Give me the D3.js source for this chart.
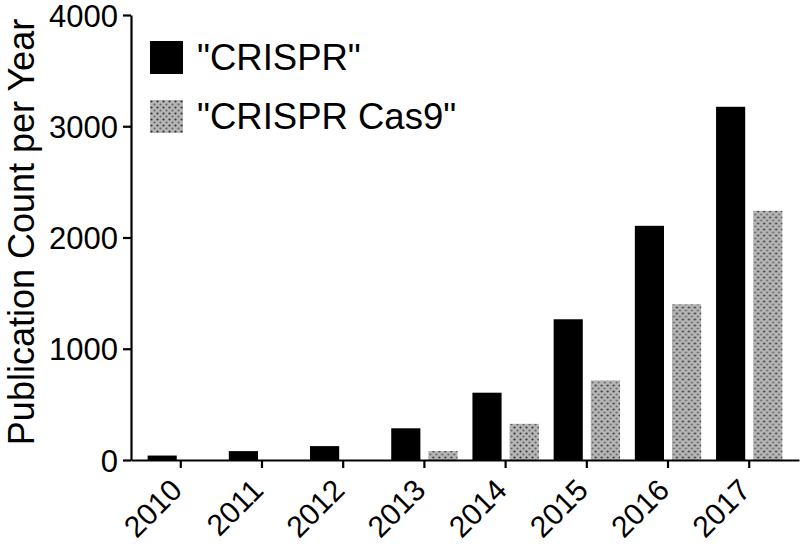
<!DOCTYPE html>
<html>
<head>
<meta charset="utf-8">
<script src="https://cdn.jsdelivr.net/npm/d3@7"></script>
<style>
  body { margin: 0; background: #fff; }
  svg { display: block; font-family: "Liberation Sans", Arial, sans-serif; }
</style>
</head>
<body>
<div id="chart"></div>
<script>
// data
const years = ['2010', '2011', '2012', '2013', '2014', '2015', '2016', '2017'];
const seriesNames = ['"CRISPR"', '"CRISPR Cas9"'];
const crisprCounts = [40, 80, 125, 285, 605, 1265, 2105, 3175];
const cas9Counts = [0, 0, 0, 80, 325, 715, 1400, 2240];
const yTicks = [0, 1000, 2000, 3000, 4000];

const width = 800;
const height = 551;
const margin = { left: 131, right: 1, top: 15, bottom: 91 };

const svg = d3.select('#chart').append('svg')
  .attr('width', width)
  .attr('height', height);

// dotted fill for the second series
const defs = svg.append('defs');
const pattern = defs.append('pattern')
  .attr('id', 'dots')
  .attr('patternUnits', 'userSpaceOnUse')
  .attr('width', 6)
  .attr('height', 6);
pattern.append('rect').attr('width', 6).attr('height', 6).attr('fill', '#b6b6b6');
pattern.append('circle').attr('cx', 1.5).attr('cy', 1.5).attr('r', 1.1).attr('fill', '#333');
pattern.append('circle').attr('cx', 4.5).attr('cy', 4.5).attr('r', 1.1).attr('fill', '#666');

const fills = ['#000', 'url(#dots)'];
const seriesValues = [crisprCounts, cas9Counts];

const x = d3.scaleBand()
  .domain(years)
  .range([margin.left, width - margin.right])
  .paddingInner(0)
  .paddingOuter(0.113);

const xSub = d3.scaleBand()
  .domain([0, 1])
  .range([0, x.bandwidth()])
  .paddingInner(0.216)
  .paddingOuter(0.2);

const y = d3.scaleLinear()
  .domain([0, 4000])
  .range([height - margin.bottom, margin.top]);

// bars
const groups = svg.append('g').selectAll('g')
  .data(years)
  .join('g')
  .attr('transform', (d) => `translate(${x(d)},0)`);

groups.selectAll('rect')
  .data((d, i) => seriesValues.map((vals, s) => ({ s, v: vals[i] })))
  .join('rect')
  .attr('x', (d) => xSub(d.s))
  .attr('width', xSub.bandwidth())
  .attr('y', (d) => y(d.v))
  .attr('height', (d) => y(0) - y(d.v))
  .attr('fill', (d) => fills[d.s]);

// axes
const yAxis = svg.append('g')
  .attr('transform', `translate(${margin.left},0)`)
  .call(d3.axisLeft(y).tickValues(yTicks).tickFormat(d3.format('d'))
    .tickSize(8).tickPadding(5).tickSizeOuter(0));

const xAxis = svg.append('g')
  .attr('transform', `translate(0,${y(0)})`)
  .call(d3.axisBottom(x).tickSize(8).tickSizeOuter(0));

for (const axis of [xAxis, yAxis]) {
  axis.attr('font-size', null).attr('font-family', null);
  axis.select('.domain').attr('stroke', '#000').attr('stroke-width', 2.2);
  axis.selectAll('.tick line').attr('stroke', '#000').attr('stroke-width', 2.2);
  axis.selectAll('text')
    .attr('fill', '#000')
    .style('font-size', '31px');
}

yAxis.selectAll('.tick text').attr('dy', '0.36em');

xAxis.selectAll('.tick text')
  .style('font-size', '30px')
  .attr('text-anchor', 'end')
  .attr('y', 0)
  .attr('dy', '0')
  .attr('transform', 'translate(3,32) rotate(-45)');

// y title
svg.append('text')
  .attr('transform', `translate(34,232) rotate(-90)`)
  .attr('text-anchor', 'middle')
  .style('font-size', '36px')
  .text('Publication Count per Year');

// legend
const legend = svg.append('g')
  .attr('transform', 'translate(150,41)');

const legendRows = legend.selectAll('g')
  .data(seriesNames)
  .join('g')
  .attr('transform', (d, i) => `translate(0,${i * 59})`);

legendRows.append('rect')
  .attr('width', 33)
  .attr('height', 33)
  .attr('fill', (d, i) => fills[i]);

legendRows.append('text')
  .attr('x', 47)
  .attr('y', 29)
  .style('font-size', '36.5px')
  .text((d) => d);
</script>
</body>
</html>
